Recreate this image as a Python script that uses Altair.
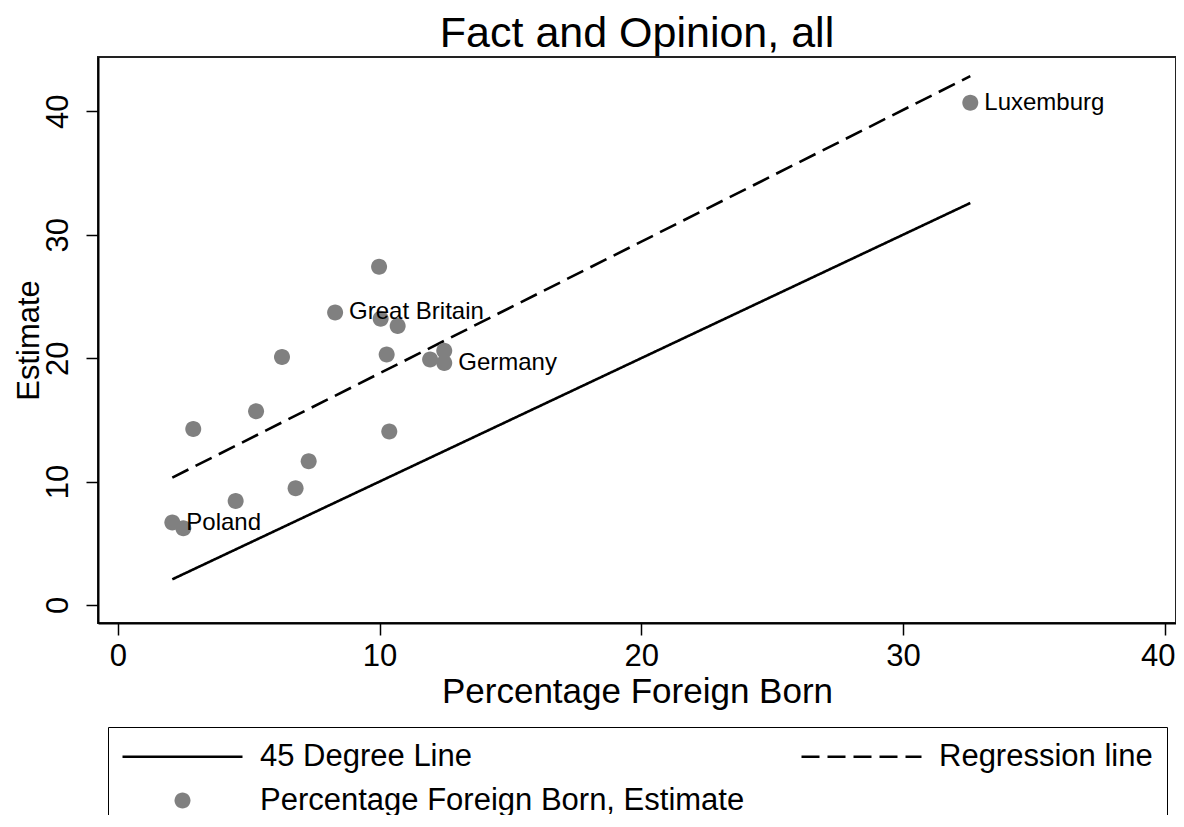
import altair as alt
import pandas as pd

# ---- data ----
pfb = [32.57, 8.30, 6.27, 9.98, 10.04, 10.69, 10.27, 11.93, 12.47, 12.47,
       5.28, 2.88, 7.29, 6.79, 4.50, 2.08, 2.50, 10.37]
estimate = [40.7, 23.7, 20.1, 27.4, 23.2, 22.6, 20.3, 19.9, 20.6, 19.6,
            15.7, 14.25, 11.65, 9.46, 8.43, 6.68, 6.22, 14.06]
country_label = ["Luxemburg", "Great Britain", "", "", "", "", "", "", "", "Germany",
                 "", "", "", "", "", "Poland", "", ""]

line45_x = [2.08, 32.57]
line45_y = [2.08, 32.57]
reg_x = [2.08, 32.57]
reg_y = [10.32, 42.85]

S45 = "45 Degree Line"
SREG = "Regression line"
SPT = "Percentage Foreign Born, Estimate"
series_order = [S45, SREG, SPT]

FONT = "Liberation Sans"
GRAY = "#808080"
LINE_PATH = "M-6,0L6,0"
CIRCLE_PATH = "M-0.8,0A0.8,0.8,0,1,0,0.8,0A0.8,0.8,0,1,0,-0.8,0Z"

pts = pd.DataFrame({"x": pfb, "y": estimate, "label": country_label, "series": SPT})
lines = pd.DataFrame({
    "x": line45_x + reg_x,
    "y": line45_y + reg_y,
    "series": [S45] * len(line45_x) + [SREG] * len(reg_x),
})

xscale = alt.Scale(domain=[-0.76, 40.43], nice=False, zero=False)
yscale = alt.Scale(domain=[-1.46, 44.4], nice=False, zero=False)

xaxis = alt.Axis(values=[0, 10, 20, 30, 40], title="Percentage Foreign Born", grid=False,
                 domain=True, domainColor="black", domainWidth=2,
                 tickSize=12, tickWidth=1.5, tickColor="black",
                 labelFontSize=31, labelFont=FONT, labelColor="black", labelPadding=6,
                 labelFlush=False, labelOverlap=False,
                 labelOffset={"condition": {"test": "datum.value == 40", "value": -7}, "value": 0},
                 titleFontSize=35, titleFont=FONT, titleFontWeight="normal",
                 titleColor="black", titlePadding=3)
yaxis = alt.Axis(values=[0, 10, 20, 30, 40], title="Estimate", grid=False,
                 domain=True, domainColor="black", domainWidth=2,
                 tickSize=12, tickWidth=1.5, tickColor="black",
                 labelAngle=270, labelAlign="center", labelBaseline="bottom",
                 labelFontSize=31, labelFont=FONT, labelColor="black", labelPadding=12,
                 labelFlush=False, labelOverlap=False,
                 titleFontSize=31, titleFont=FONT, titleFontWeight="normal",
                 titleColor="black", titlePadding=-3)

legend = alt.Legend(
    title=None, orient="none", legendX=10, legendY=670, columns=2, direction="horizontal",
    values=series_order,
    symbolSize=400, symbolStrokeWidth=2.5, symbolOffset=45, labelOffset=62,
    labelFont=FONT, labelFontSize=31, labelColor="black", labelLimit=1000,
    columnPadding=51, rowPadding=12, padding=14,
    strokeColor="black", fillColor="white", symbolOpacity=1,
)

stroke_enc = alt.Stroke("series:N", scale=alt.Scale(domain=series_order,
                                                    range=["black", "black", "transparent"]),
                        legend=legend)
fill_enc = alt.Fill("series:N", scale=alt.Scale(domain=series_order,
                                                range=["transparent", "transparent", GRAY]),
                    legend=legend)
shape_enc = alt.Shape("series:N", scale=alt.Scale(domain=series_order,
                                                  range=[LINE_PATH, LINE_PATH, CIRCLE_PATH]),
                      legend=legend)
dash_enc = alt.StrokeDash("series:N", scale=alt.Scale(domain=series_order,
                                                      range=[[1, 0], [18, 8], [1, 0]]),
                          legend=legend)

line_layer = alt.Chart(lines).mark_line(strokeWidth=2.6).encode(
    x=alt.X("x:Q", scale=xscale, axis=xaxis),
    y=alt.Y("y:Q", scale=yscale, axis=yaxis),
    stroke=stroke_enc,
    strokeDash=dash_enc,
    detail="series:N",
)

point_layer = alt.Chart(pts).mark_point(filled=True, size=400, opacity=1, strokeWidth=2.5).encode(
    x=alt.X("x:Q", scale=xscale),
    y=alt.Y("y:Q", scale=yscale),
    fill=fill_enc,
    stroke=stroke_enc,
    shape=shape_enc,
)

text_layer = alt.Chart(pts).transform_filter("datum.label != ''").mark_text(
    align="left", baseline="middle", dx=14, fontSize=24, font=FONT, color="black"
).encode(
    x=alt.X("x:Q", scale=xscale),
    y=alt.Y("y:Q", scale=yscale),
    text="label:N",
)

chart = alt.layer(line_layer, point_layer, text_layer).properties(
    width=1078, height=566,
    autosize=alt.AutoSizeParams(type="none"),
    padding={"left": 90, "top": 49, "right": 0, "bottom": 192},
    background="white",
    view=alt.ViewBackground(stroke="#222222", strokeWidth=2),
    title=alt.TitleParams("Fact and Opinion, all", fontSize=43, font=FONT,
                          fontWeight="normal", color="black", anchor="middle", offset=1),
).configure_view(stroke="#222222", strokeWidth=2)

chart.save("out.html", embed_options={"renderer": "svg", "actions": False})
